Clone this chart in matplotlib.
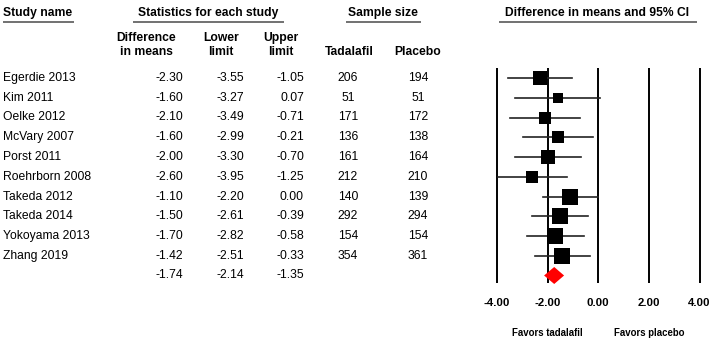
import numpy as np
import matplotlib.pyplot as plt

plt.rcParams['font.family'] = ['Liberation Sans', 'DejaVu Sans']

# study data
studies = ['Egerdie 2013', 'Kim 2011', 'Oelke 2012', 'McVary 2007', 'Porst 2011',
           'Roehrborn 2008', 'Takeda 2012', 'Takeda 2014', 'Yokoyama 2013', 'Zhang 2019']
diff = [-2.30, -1.60, -2.10, -1.60, -2.00, -2.60, -1.10, -1.50, -1.70, -1.42]
lower = [-3.55, -3.27, -3.49, -2.99, -3.30, -3.95, -2.20, -2.61, -2.82, -2.51]
upper = [-1.05, 0.07, -0.71, -0.21, -0.70, -1.25, 0.00, -0.39, -0.58, -0.33]
n_tad = [206, 51, 171, 136, 161, 212, 140, 292, 154, 354]
n_pla = [194, 51, 172, 138, 164, 210, 139, 294, 154, 361]
pooled = (-1.74, -2.14, -1.35)
xticks = [-4, -2, 0, 2, 4]

W, H = 722, 342
Y0, DY = 78, 19.75


def row(px):
    return (px - Y0) / DY


fig = plt.figure(figsize=(W / 100, H / 100), dpi=100)
tab = fig.add_axes([0, 0, 1, 1])
tab.set_xlim(0, W)
tab.set_ylim(row(H), row(0))
tab.axis('off')

fs = 8.7
# headers
hdr = dict(fontsize=fs, fontweight='bold', va='center')
tab.text(3, row(13), 'Study name', ha='left', **hdr)
tab.text(208, row(13), 'Statistics for each study', ha='center', **hdr)
tab.text(383, row(13), 'Sample size', ha='center', **hdr)
tab.text(597, row(13), 'Difference in means and 95% CI', ha='center', **hdr)
for x0, x1 in [(3, 74), (133, 284), (346, 421), (499, 697)]:
    tab.plot([x0, x1], [row(21.5), row(21.5)], color='#666666', lw=1.3,
             solid_capstyle='butt')

tab.text(146, row(45), 'Difference\nin means', ha='center', linespacing=1.25, **hdr)
tab.text(221, row(45), 'Lower\nlimit', ha='center', linespacing=1.25, **hdr)
tab.text(281, row(45), 'Upper\nlimit', ha='center', linespacing=1.25, **hdr)
tab.text(349, row(52), 'Tadalafil', ha='center', **hdr)
tab.text(418, row(52), 'Placebo', ha='center', **hdr)

# table rows
for i, name in enumerate(studies):
    tab.text(3, i, name, ha='left', va='center', fontsize=fs)
    tab.text(183, i, f'{diff[i]:.2f}', ha='right', va='center', fontsize=fs)
    tab.text(244, i, f'{lower[i]:.2f}', ha='right', va='center', fontsize=fs)
    tab.text(304, i, f'{upper[i]:.2f}', ha='right', va='center', fontsize=fs)
    tab.text(348, i, str(n_tad[i]), ha='center', va='center', fontsize=fs)
    tab.text(418, i, str(n_pla[i]), ha='center', va='center', fontsize=fs)
k = len(studies)
tab.text(183, k, f'{pooled[0]:.2f}', ha='right', va='center', fontsize=fs)
tab.text(244, k, f'{pooled[1]:.2f}', ha='right', va='center', fontsize=fs)
tab.text(304, k, f'{pooled[2]:.2f}', ha='right', va='center', fontsize=fs)

# forest plot
x_left, x_right = 497, 699.5
ax = fig.add_axes([x_left / W, 0, (x_right - x_left) / W, 1])
ax.set_xlim(-4, 4)
ax.set_ylim(row(H), row(0))
ax.axis('off')

ax.vlines(xticks, row(68), row(283), color='black', lw=1.4, clip_on=False)
for t in xticks:
    ax.text(t, row(302.5), f'{t:.2f}', ha='center', va='center',
            fontsize=8.2, fontweight='bold', clip_on=False)

ci_w = np.array(upper) - np.array(lower)
side_px = 35 / ci_w
for i in range(k):
    ax.plot([lower[i], upper[i]], [i, i], color='#222222', lw=1.2, zorder=2,
            clip_on=False)
    ax.plot(diff[i], i, marker='s', color='black', markersize=side_px[i] * 0.72,
            markeredgewidth=0, zorder=3)

m, lo, hi = pooled
hh = 8.5 / DY
ax.fill([lo, m, hi, m], [k, k - hh, k, k + hh], color='red', zorder=3,
        edgecolor='none')

ax.text(-2, row(332.5), 'Favors tadalafil', ha='center', va='center',
        fontsize=6.9, fontweight='bold')
ax.text(2, row(332.5), 'Favors placebo', ha='center', va='center',
        fontsize=6.9, fontweight='bold')

fig.savefig('out.png', dpi=100)
